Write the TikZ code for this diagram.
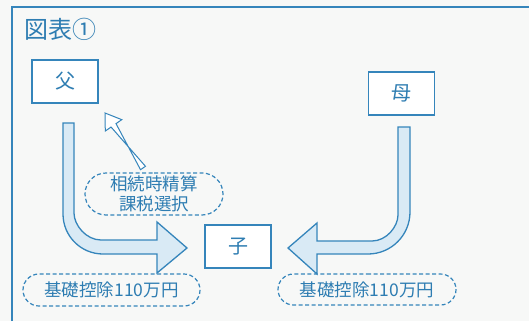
\documentclass[tikz,border=0pt]{standalone}
\usepackage{fontspec}
\setmainfont{Noto Sans CJK JP}
\usetikzlibrary{calc,shapes.misc}
\definecolor{zblue}{HTML}{3585BB}
\definecolor{ztext}{HTML}{2E7DB2}
\definecolor{zfill}{HTML}{D9EAF5}
\definecolor{zbg}{HTML}{F7F8F7}
\tikzset{
  person/.style={draw=zblue, line width=1.4pt, fill=white, minimum width=66pt, minimum height=43pt, inner sep=0pt, text=ztext, font=\fontsize{20pt}{24pt}\selectfont},
  dashbox/.style={draw=zblue, line width=1.2pt, dash pattern=on 4pt off 2.5pt, rounded rectangle, inner sep=0pt, text=ztext, font=\fontsize{17.5pt}{21pt}\selectfont, align=center},
  bigarrow/.style={draw=zblue, line width=1.3pt, fill=zfill, line join=miter},
  outline/.style={draw=zblue, line width=1pt, fill=white, line join=miter},
  frameline/.style={draw=zblue, line width=1.5pt}
}
\begin{document}
\begin{tikzpicture}[x=1pt,y=-1pt]
\fill[zbg] (0,0) rectangle (529,321);
\useasboundingbox (0,0) rectangle (529,321);
% frame
\draw[frameline] (12,321) -- (12,7) -- (529,7);
\node[text=ztext, font=\fontsize{24pt}{28pt}\selectfont, anchor=center] (title) at (60,29) {図表①};
% nodes
\node[person] (fa) at (65,81.5) {父};
\node[person] (mo) at (401.5,93.5) {母};
\node[person] (ko) at (238,246.5) {子};
\node[dashbox, minimum width=138pt, minimum height=42pt] (sel) at (154,194) {相続時精算\\[-1pt]課税選択};
\node[dashbox, minimum width=177pt, minimum height=32pt] (k1) at (111.5,290) {基礎控除110万円};
\node[dashbox, minimum width=178pt, minimum height=31pt] (k2) at (367,289.5) {基礎控除110万円};
% big left arrow (father -> child)
\draw[bigarrow] (63,123) -- (63,214)
  .. controls (63,236.1) and (80.9,254) .. (103,254)
  -- (157,254) -- (157,273) -- (187,248) -- (157,222) -- (157,240)
  -- (101,240) .. controls (86.1,240) and (74,225.1) .. (74,213)
  -- (74,123) -- cycle;
% big right arrow (mother -> child)
\draw[bigarrow] (398,127) -- (410,127) -- (410,212)
  .. controls (410,235.2) and (391.2,254) .. (368,254)
  -- (317,254) -- (317,274) -- (288,248) -- (317,223) -- (317,241)
  -- (372,241) .. controls (386.4,241) and (398,226.6) .. (398,215)
  -- cycle;
% small outline arrow (selection -> father)
\coordinate (st) at (143,168);
\coordinate (tp) at (105,113);
\coordinate (hb) at ($(tp)!15pt!(st)$);
\draw[outline] ($(st)!3pt!90:(tp)$) -- ($(hb)!3pt!-90:(tp)$) -- ($(hb)!10pt!-90:(tp)$)
  -- (tp) -- ($(hb)!10pt!90:(tp)$) -- ($(hb)!3pt!90:(tp)$) -- ($(st)!3pt!-90:(tp)$) -- cycle;
\end{tikzpicture}
\end{document}
